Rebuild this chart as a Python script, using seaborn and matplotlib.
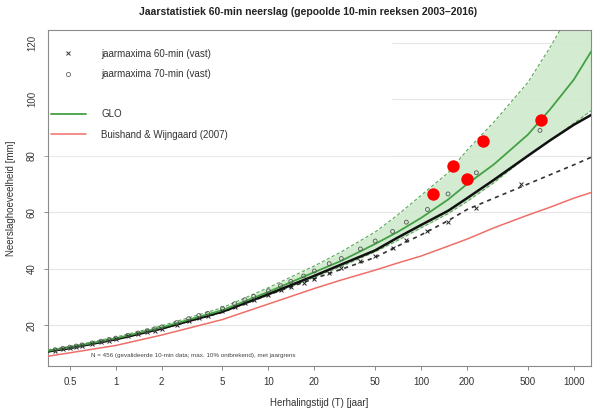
import matplotlib
matplotlib.use("Agg")
import matplotlib.pyplot as plt
import seaborn as sns
from matplotlib.lines import Line2D

# fitted curves (return period T in years -> depth in mm)
T_fit = [0.36, 0.5, 1, 2, 5, 10, 20, 30, 50, 70, 100, 150, 200, 300, 500, 700, 1000, 1300]
glo = [10.9, 12.1, 15.3, 19.2, 25.3, 31.8, 38.8, 42.8, 48.8, 53.0, 58.0, 64.5, 70.0, 77.0,
       87.5, 96.5, 107.0, 117.0]
glo_lo = [10.5, 11.7, 14.9, 18.7, 24.6, 30.6, 37.0, 40.8, 46.0, 50.0, 54.5, 59.5, 63.8, 70.5,
          80.0, 85.5, 91.5, 96.0]
glo_hi = [11.3, 12.5, 15.8, 19.8, 26.2, 33.3, 41.0, 46.0, 53.0, 59.0, 66.0, 74.0, 82.0, 92.0,
          106.0, 118.5, 133.0, 146.0]
fit_black = [10.7, 11.9, 15.0, 18.8, 24.8, 31.0, 37.5, 41.5, 46.5, 51.0, 55.5, 60.5, 65.0, 71.5,
             80.0, 85.5, 91.0, 94.5]
fit_black_dash = [10.7, 11.9, 15.0, 18.8, 24.6, 30.8, 36.5, 39.8, 44.0, 48.0, 52.0, 57.0, 61.0,
                  65.0, 70.0, 73.3, 76.8, 79.5]
bw2007 = [9.0, 10.2, 12.8, 16.5, 22.0, 27.5, 33.0, 36.0, 39.5, 42.0, 44.5, 48.0, 50.5, 54.5,
          59.0, 61.8, 65.0, 67.0]

# empirical annual maxima
T_60 = [0.40, 0.45, 0.5, 0.55, 0.6, 0.7, 0.8, 0.9, 1.0, 1.2, 1.4, 1.6, 1.8, 2.0, 2.5, 3, 3.5, 4,
        5, 6, 7, 8, 10, 12, 14, 17, 20, 25, 30, 40, 50, 65, 80, 110, 150, 230, 450]
max_60 = [11.0, 11.5, 12.0, 12.3, 12.7, 13.4, 14.0, 14.5, 15.0, 16.0, 16.7, 17.5, 18.1, 18.8,
          20.2, 21.6, 22.6, 23.3, 24.9, 26.6, 27.8, 28.8, 30.6, 32.4, 33.4, 35.0, 36.4, 38.6,
          40.2, 42.8, 44.5, 47.5, 50.0, 53.5, 56.5, 61.5, 70.0]
T_70 = [0.40, 0.45, 0.5, 0.55, 0.6, 0.7, 0.8, 0.9, 1.0, 1.2, 1.4, 1.6, 1.8, 2.0, 2.5, 3, 3.5, 4,
        5, 6, 7, 8, 10, 12, 14, 17, 20, 25, 30, 40, 50, 65, 80, 110, 150, 230, 600]
max_70 = [11.3, 11.8, 12.2, 12.6, 13.0, 13.7, 14.3, 14.9, 15.4, 16.4, 17.2, 18.0, 18.7, 19.4,
          20.9, 22.3, 23.4, 24.2, 26.0, 27.6, 29.0, 30.2, 32.2, 34.0, 35.5, 37.4, 39.2, 41.8,
          43.6, 47.0, 49.8, 53.2, 56.5, 61.0, 66.5, 74.0, 89.0]

# highlighted events
T_events = [119, 161, 199, 253, 607]
mm_events = [66.6, 76.5, 71.9, 85.3, 92.8]

x_ticks = [0.5, 1, 2, 5, 10, 20, 50, 100, 200, 500, 1000]
x_ticklabels = ["0.5", "1", "2", "5", "10", "20", "50", "100", "200", "500", "1000"]
y_ticks = [20, 40, 60, 80, 100, 120]

sns.set_style("white")
plt.rcParams['font.family'] = ['Liberation Sans', 'DejaVu Sans']

green = "#44a044"
red = "#ee6f6a"
frame = "#8a8a8a"

fig = plt.figure(figsize=(5.93, 4.16), dpi=100)
ax = fig.add_axes([0.081, 0.12, 0.916, 0.808])

for y in y_ticks:
    ax.axhline(y, color="#e6e6e6", lw=0.8, zorder=0)

ax.fill_between(T_fit, glo_lo, glo_hi, color="#cfe9cb", alpha=0.9, lw=0, zorder=1)
sns.lineplot(x=T_fit, y=glo_lo, ax=ax, color="#5aa85a", lw=0.8, linestyle=(0, (3, 2)), zorder=2)
sns.lineplot(x=T_fit, y=glo_hi, ax=ax, color="#5aa85a", lw=0.8, linestyle=(0, (3, 2)), zorder=2)
sns.lineplot(x=T_fit, y=bw2007, ax=ax, color=red, lw=1.1, zorder=3)
sns.lineplot(x=T_fit, y=fit_black_dash, ax=ax, color="#333333", lw=1.2, linestyle=(0, (2.5, 2.5)), zorder=3)
sns.lineplot(x=T_fit, y=fit_black, ax=ax, color="#111111", lw=1.8, zorder=4)
sns.lineplot(x=T_fit, y=glo, ax=ax, color=green, lw=1.3, zorder=5)

sns.scatterplot(x=T_60, y=max_60, ax=ax, marker="x", color="#222222", s=8, linewidth=0.7, zorder=6)
sns.scatterplot(x=T_70, y=max_70, ax=ax, marker="o", facecolor="none", edgecolor="#555555",
                s=8, linewidth=0.6, zorder=6)
sns.scatterplot(x=T_events, y=mm_events, ax=ax, color="#ff0000", s=80, linewidth=0, zorder=8)

ax.set_xscale("log")
ax.set_xlim(0.36, 1300)
ax.set_ylim(5.5, 124.6)
ax.set_xticks(x_ticks)
ax.set_xticklabels(x_ticklabels)
ax.minorticks_off()
ax.set_yticks(y_ticks)
ax.set_yticklabels([str(v) for v in y_ticks], rotation=90, va="center")
ax.tick_params(axis="both", which="major", direction="out", length=3, width=0.7,
               color=frame, labelsize=7, labelcolor="#333333", pad=5, left=True, bottom=True)
for s in ax.spines.values():
    s.set_color(frame)
    s.set_linewidth(0.8)

ax.set_xlabel("Herhalingstijd (T) [jaar]", fontsize=7, color="#333333", labelpad=8)
ax.set_ylabel("Neerslaghoeveelheid [mm]", fontsize=7, color="#333333", labelpad=8)
fig.text(0.52, 0.972, "Jaarstatistiek 60-min neerslag (gepoolde 10-min reeksen 2003\u20132016)",
         ha="center", va="center", fontsize=7.5, fontweight="bold", color="#222222")
ax.text(0.08, 0.025, "N = 456 (gevalideerde 10-min data; max. 10% ontbrekend), met jaargrens",
        transform=ax.transAxes, fontsize=4.5, color="#444444", ha="left", va="bottom")

handles = [
    Line2D([], [], marker="x", ls="", color="#333333", ms=3, mew=0.7),
    Line2D([], [], marker="o", ls="", mfc="none", mec="#666666", ms=3, mew=0.6),
    Line2D([], [], ls="", color="none"),
    Line2D([], [], color=green, lw=1.3),
    Line2D([], [], color=red, lw=1.1),
]
labels = ["jaarmaxima 60-min (vast)", "jaarmaxima 70-min (vast)", " ",
          "GLO", "Buishand & Wijngaard (2007)"]
leg = ax.legend(handles, labels, loc="upper left", bbox_to_anchor=(-0.024, 0.0, 0.655, 0.99),
                mode="expand", fontsize=7, frameon=True, facecolor="white", edgecolor="white",
                framealpha=1, handlelength=3.6, handletextpad=1.6, labelspacing=1.05,
                borderpad=1.6, borderaxespad=0)
leg.set_zorder(1.5)
for t in leg.get_texts():
    t.set_color("#333333")

fig.savefig("out.png", dpi=100)
